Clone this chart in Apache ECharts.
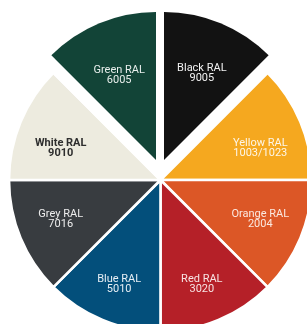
<!DOCTYPE html>
<html>
<head>
<meta charset="utf-8">
<script src="https://cdn.jsdelivr.net/npm/echarts@6/dist/echarts.min.js"></script>
<style>
  html, body { margin: 0; padding: 0; background: #fff; }
  #main { width: 307px; height: 324px; }
</style>
</head>
<body>
<div id="main"></div>
<script>
// slices go clockwise from 12 o'clock
var names = ['Black RAL', 'Yellow RAL', 'Orange RAL', 'Red RAL', 'Blue RAL', 'Grey RAL', 'White RAL', 'Green RAL'];
var codes = ['9005', '1003/1023', '2004', '3020', '5010', '7016', '9010', '6005'];
var shares = [1, 1, 1, 1, 1, 1, 1, 1];

var colors = ['#121212', '#f5a81f', '#dc5726', '#b52028', '#034f7b', '#383c40', '#edebdf', '#124437'];
var textColors = ['#f2f2f2', '#fdf6e8', '#fbe9e0', '#f7e3e3', '#e6eef4', '#eeeeee', '#2e2e2e', '#e8efec'];
// nudges the label up (-) or down (+) from its ring position
var labelShift = [-7, 10, -2, 4, 4, -2, 10, -5];

var popped = { 0: true, 7: true }; // black and green sit out from the rest

var total = shares.reduce(function (a, b) { return a + b; }, 0);

function mainData() {
    return shares.map(function (v, i) {
        return {
            name: names[i],
            value: v,
            itemStyle: { color: popped[i] ? 'transparent' : colors[i] }
        };
    });
}

// one slice pulled out on its own, the rest of the circle left empty
function loneSlice(i, start) {
    return {
        type: 'pie',
        center: [i === 7 ? 156 : 164, 160],
        radius: 148,
        startAngle: start,
        clockwise: true,
        silent: true,
        label: { show: false },
        labelLine: { show: false },
        emphasis: { disabled: true },
        data: [
            { name: names[i], value: shares[i], itemStyle: { color: colors[i] } },
            { name: 'rest', value: total - shares[i], itemStyle: { color: 'transparent' } }
        ]
    };
}

function labelData() {
    return shares.map(function (v, i) {
        return {
            name: names[i],
            value: v,
            itemStyle: { color: 'transparent' },
            label: {
                color: textColors[i],
                fontWeight: i === 6 ? 'bold' : 'normal'
            }
        };
    });
}

var chart = echarts.init(document.getElementById('main'), null, { renderer: 'canvas' });

chart.setOption({
    animation: false,
    backgroundColor: '#ffffff',
    tooltip: { show: false },
    series: [
        {
            type: 'pie',
            center: [160.5, 180],
            radius: 151.5,
            startAngle: 90,
            clockwise: true,
            silent: true,
            itemStyle: { borderColor: '#ffffff', borderWidth: 2.6 },
            label: { show: false },
            labelLine: { show: false },
            emphasis: { disabled: true },
            data: mainData()
        },
        loneSlice(7, 135),
        loneSlice(0, 90),
        {
            // transparent ring only used to place the labels
            type: 'pie',
            center: [160.5, 180],
            radius: [60, 150],
            startAngle: 90,
            clockwise: true,
            silent: true,
            z: 5,
            emphasis: { disabled: true },
            labelLine: { show: false },
            label: {
                show: true,
                position: 'inside',
                fontFamily: 'Roboto',
                fontSize: 11,
                lineHeight: 10,
                align: 'center',
                formatter: function (p) {
                    return names[p.dataIndex] + '\n' + codes[p.dataIndex];
                }
            },
            labelLayout: function (p) {
                return { dy: labelShift[p.dataIndex] };
            },
            data: labelData()
        }
    ]
});
</script>
</body>
</html>
